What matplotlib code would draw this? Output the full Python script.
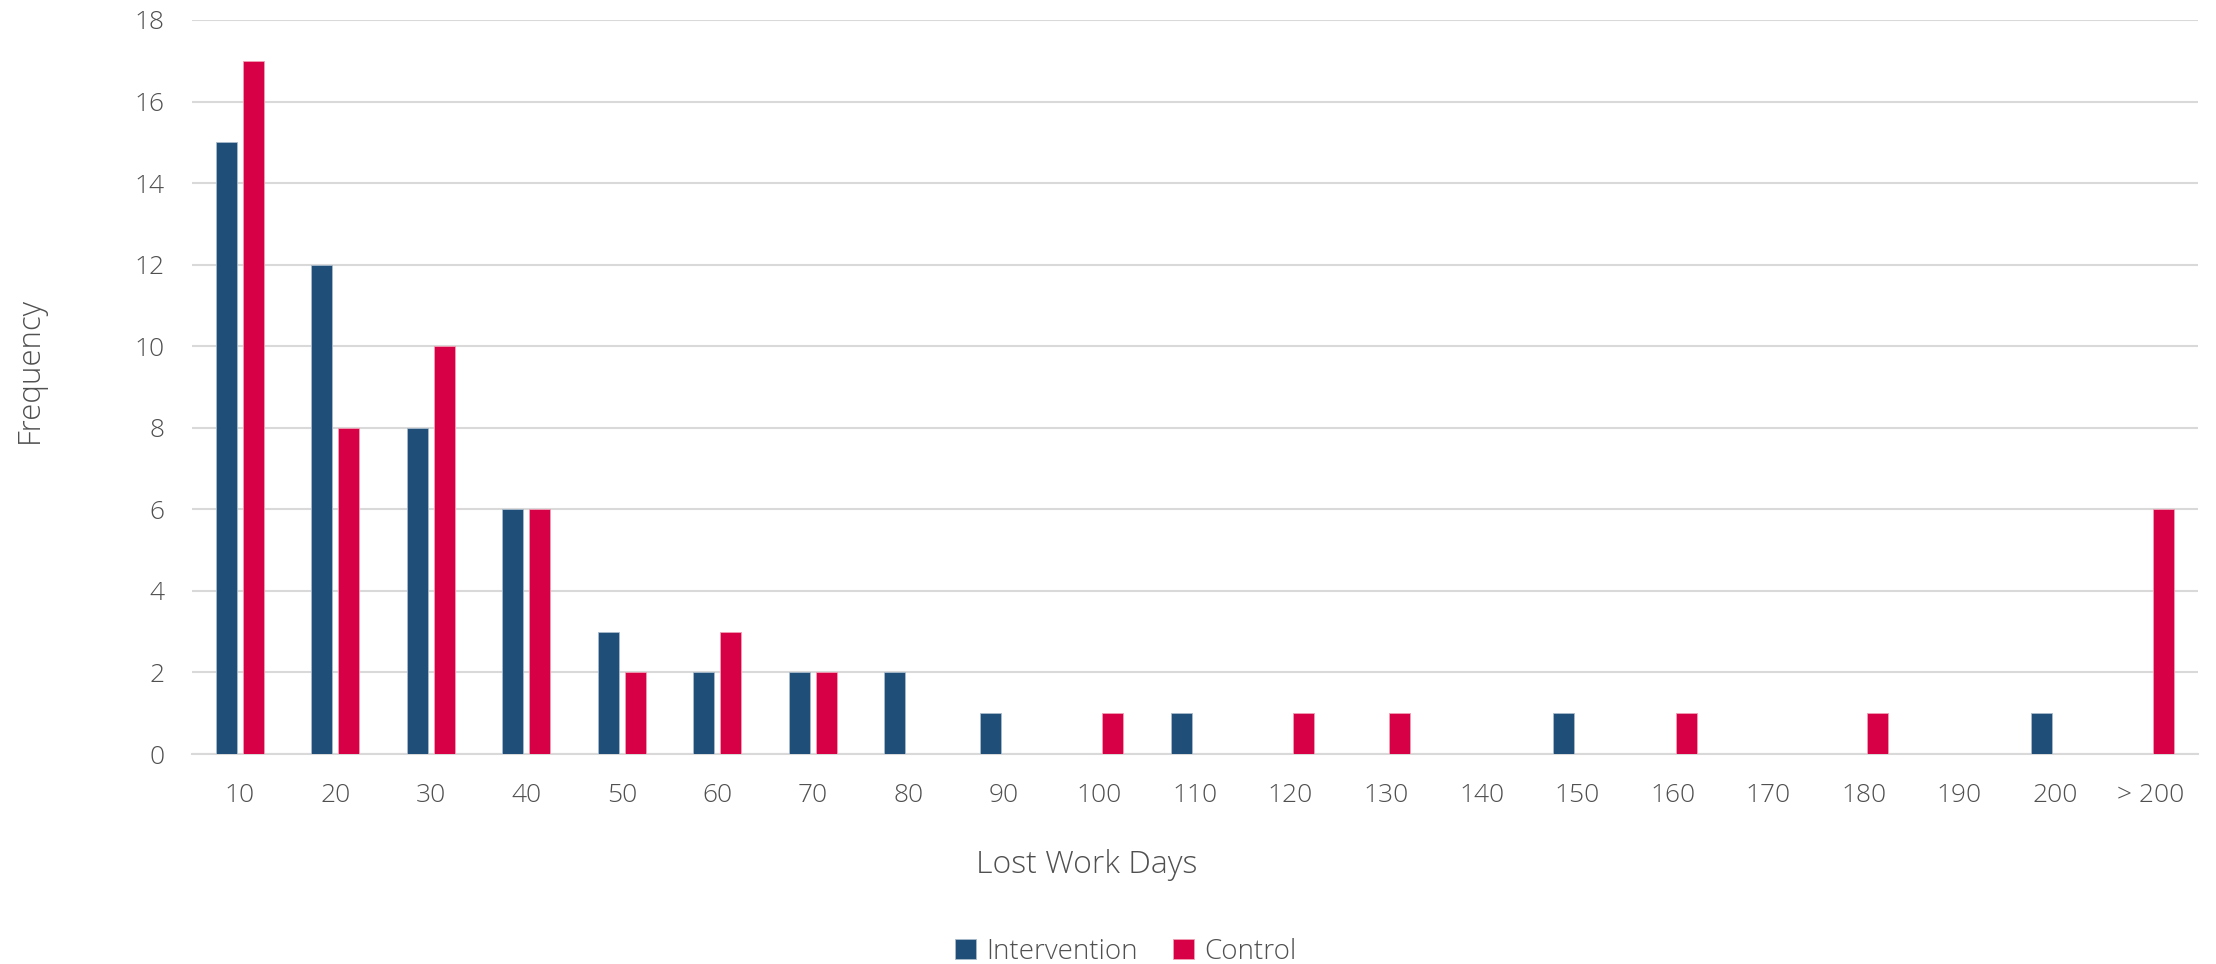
"""Grouped bar chart of lost work days, intervention vs control."""

import matplotlib

matplotlib.use("Agg")
import matplotlib.pyplot as plt
import numpy as np

categories = ["10", "20", "30", "40", "50", "60", "70", "80", "90", "100",
              "110", "120", "130", "140", "150", "160", "170", "180", "190",
              "200", "> 200"]
intervention = [15, 12, 8, 6, 3, 2, 2, 2, 1, 0, 1, 0, 0, 0, 1, 0, 0, 0, 0, 1, 0]
control = [17, 8, 10, 6, 2, 3, 2, 0, 0, 1, 0, 1, 1, 0, 0, 1, 0, 1, 0, 0, 6]
y_ticks = list(range(0, 19, 2))

BLUE = "#1F4E79"
RED = "#D70046"
TEXT = "#505050"
GRID = "#D9D9D9"

plt.rcParams["font.family"] = ["Open Sans", "DejaVu Sans"]
plt.rcParams["font.weight"] = "light"

fig = plt.figure(figsize=(22.16, 9.64), dpi=100)
ax = fig.add_axes([0.0866, 0.2178, 0.9053, 0.7615])

x = np.arange(len(categories))
width = 0.22
offset = 0.141
ax.bar(x - offset, intervention, width, color=BLUE, edgecolor="#A9BBCB",
       linewidth=0.6, label="Intervention", zorder=3)
ax.bar(x + offset, control, width, color=RED, edgecolor="#F0A0B5",
       linewidth=0.6, label="Control", zorder=3)

ax.set_xlim(-0.5, len(categories) - 0.5)
ax.set_ylim(0, 18)
ax.set_yticks(y_ticks)
ax.set_xticks(x)
ax.set_xticklabels(categories)

ax.grid(axis="y", color=GRID, linewidth=1.5, zorder=0)
for side in ("top", "right", "left"):
    ax.spines[side].set_visible(False)
ax.spines["bottom"].set_color(GRID)
ax.spines["bottom"].set_linewidth(1.5)
ax.tick_params(axis="both", length=0, labelsize=19, labelcolor=TEXT)
ax.tick_params(axis="y", pad=20)
ax.tick_params(axis="x", pad=21)

fig.text(0.0135, 0.616, "Frequency", rotation=90, ha="center", va="center",
         fontsize=22.5, color=TEXT)
fig.text(0.4905, 0.103, "Lost Work Days", ha="center", va="center",
         fontsize=23, color=TEXT)

handles, labels = ax.get_legend_handles_labels()
fig.legend(handles, labels, loc="center", bbox_to_anchor=(0.508, 0.0125),
           ncol=2, frameon=False, fontsize=20, labelcolor=TEXT,
           handlelength=0.75, handleheight=0.75, handletextpad=0.35,
           columnspacing=1.3)

fig.savefig("out.png", dpi=100)
